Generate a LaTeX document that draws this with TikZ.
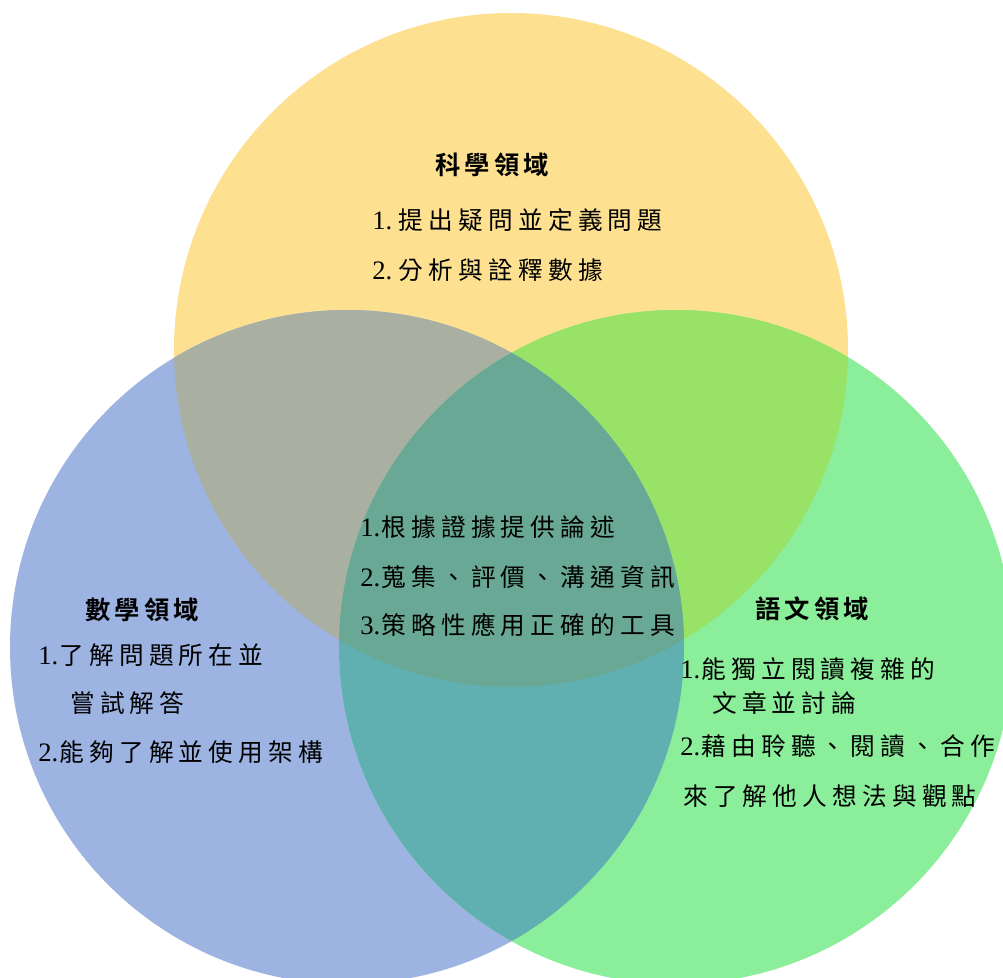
\documentclass[tikz,border=0pt]{standalone}
\usepackage{fontspec}
\newfontfamily\cjk[LetterSpace=21]{Noto Sans CJK TC}
\newfontfamily\cjkb[LetterSpace=16]{Noto Sans CJK TC Bold}
\newfontfamily\numf{Liberation Serif}
\newcommand\nm[1]{{\numf\fontsize{20}{22}\selectfont #1}\hspace{1pt}}
\definecolor{cy}{RGB}{253,225,145}
\definecolor{cb}{RGB}{157,179,226}
\definecolor{cg}{RGB}{138,238,154}
\definecolor{cyb}{RGB}{169,176,162}
\definecolor{cyg}{RGB}{152,226,104}
\definecolor{cbg}{RGB}{97,176,177}
\definecolor{cybg}{RGB}{104,168,148}
\tikzset{
  item/.style={anchor=west,inner sep=0pt,font={\cjk\fontsize{18.5}{21}\selectfont}},
  head/.style={anchor=west,inner sep=0pt,font={\cjkb\fontsize{19}{21}\selectfont}},
}
\begin{document}
\begin{tikzpicture}[x=0.75pt,y=-0.75pt]
\useasboundingbox (0,0) rectangle (1003,978);
\clip (0,0) rectangle (1003,978);
\fill[white] (0,0) rectangle (1003,978);
\def\Y{(511,350) circle (337)}
\def\B{(347,647) circle (337)}
\def\G{(676,647) circle (337)}
\fill[cy] \Y;
\fill[cb] \B;
\fill[cg] \G;
\begin{scope}\clip \Y; \fill[cyb] \B; \fill[cyg] \G; \end{scope}
\begin{scope}\clip \B; \fill[cbg] \G; \end{scope}
\begin{scope}\clip \Y; \clip \B; \fill[cybg] \G; \end{scope}
% science
\node[head] (st) at (435,165) {科學領域};
\node[item] (s1) at (372,220) {\nm{1.}\hspace{4pt}提出疑問並定義問題};
\node[item] (s2) at (372,270) {\nm{2.}\hspace{4pt}分析與詮釋數據};
% center
\node[item] (c1) at (360,527) {\nm{1.}根據證據提供論述};
\node[item] (c2) at (360,577) {\nm{2.}蒐集、評價、溝通資訊};
\node[item] (c3) at (360,625) {\nm{3.}策略性應用正確的工具};
% math
\node[head] (mt) at (85,610) {數學領域};
\node[item] (m1) at (38,655) {\nm{1.}了解問題所在並};
\node[item] (m2) at (70,703) {嘗試解答};
\node[item] (m3) at (38,752) {\nm{2.}能夠了解並使用架構};
% language
\node[head] (lt) at (755,609) {語文領域};
\node[item] (l1) at (680,669) {\nm{1.}能獨立閱讀複雜的};
\node[item] (l2) at (712,703) {文章並討論};
\node[item] (l3) at (680,746) {\nm{2.}藉由聆聽、閱讀、合作};
\node[item] (l4) at (683,796) {來了解他人想法與觀點};
\end{tikzpicture}
\end{document}
